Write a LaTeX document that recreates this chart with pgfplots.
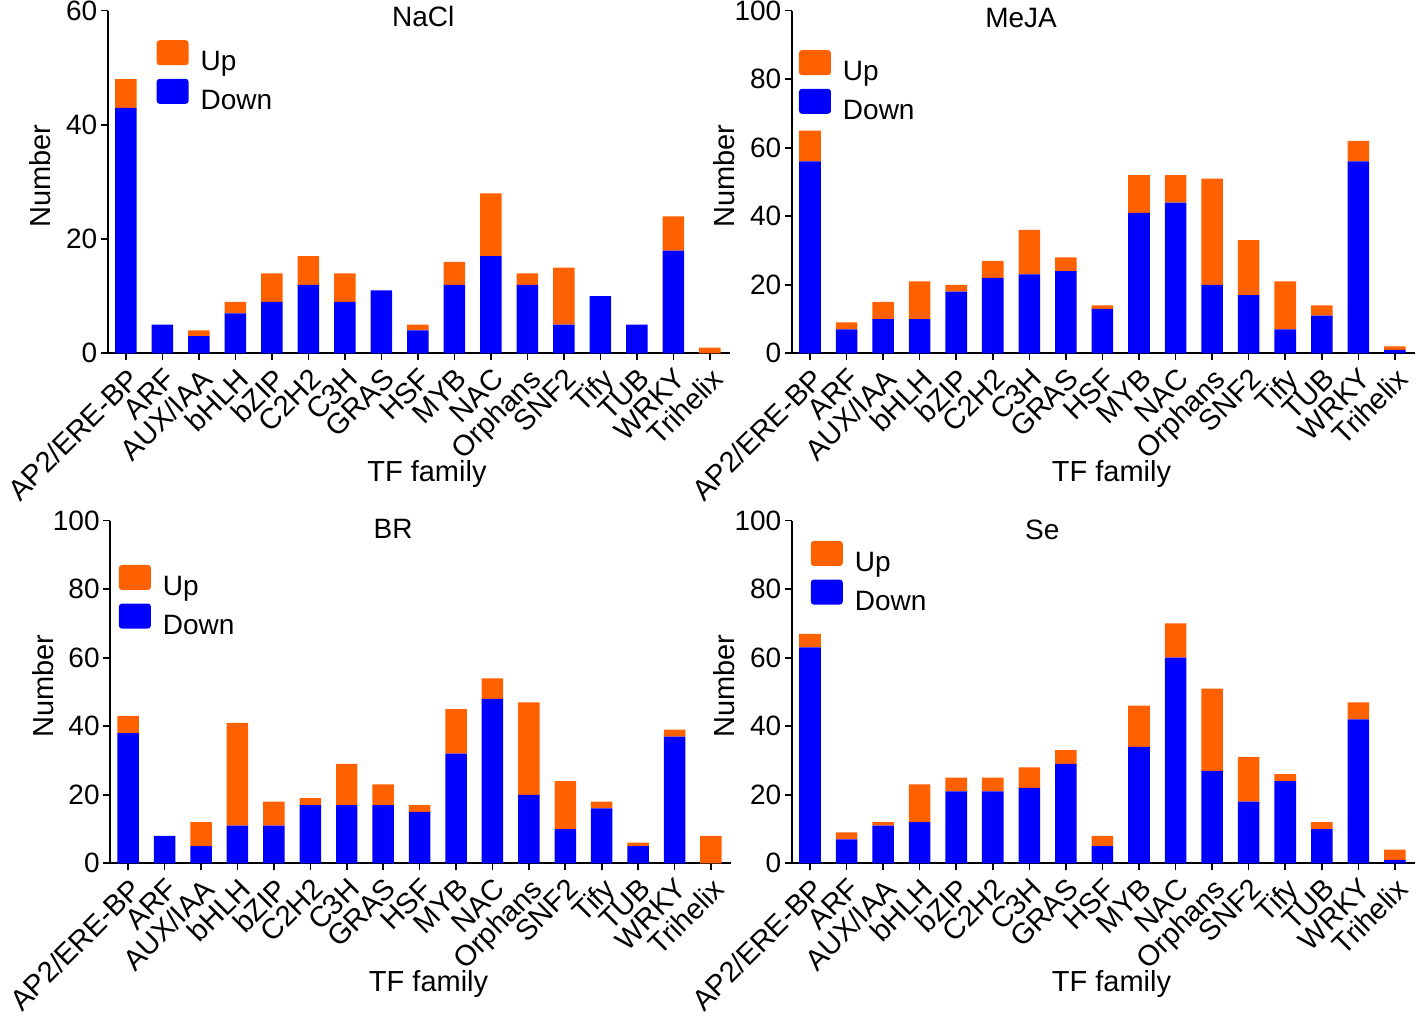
\documentclass[border=0pt]{standalone}
\usepackage{pgfplots}
\pgfplotsset{compat=1.18}
\usepackage{fontspec}
\setmainfont{Liberation Sans}
\definecolor{upc}{RGB}{255,96,0}
\definecolor{downc}{RGB}{0,0,255}
\newcommand\f{\fontsize{14pt}{16.8pt}\selectfont}
\newcommand\fl{\fontsize{14.5pt}{17pt}\selectfont}
\newcommand\fx{\fontsize{14.5pt}{17pt}\selectfont}
\pgfplotsset{
 downbar/.style={fill=downc, draw=none,
   legend image code/.code={\fill[downc, rounded corners=1.5pt] (0pt,-1.25pt) rectangle (16pt,11.25pt); \path (20pt,0pt);}},
 upbar/.style={fill=upc, draw=none,
   legend image code/.code={\fill[upc, rounded corners=1.5pt] (0pt,-1.25pt) rectangle (16pt,11.25pt); \path (20pt,0pt);}},
 panel/.style={
  scale only axis, height=171.3pt,
  ybar stacked, bar width=0.59,
  xmin=-0.5, xmax=16.55, ymin=0,
  clip=false,
  axis x line*=bottom, axis y line*=left,
  axis line style={line width=0.8pt, -},
  every tick/.style={black, line width=0.8pt},
  tick align=outside, major tick length=3.5pt,
  xtick={0,...,16},
  xticklabels={AP2/ERE-BP,ARF,AUX/IAA,bHLH,bZIP,C2H2,C3H,GRAS,HSF,MYB,NAC,Orphans,SNF2,Tify,TUB,WRKY,Trihelix},
  xticklabel style={rotate=45, anchor=north east, inner sep=2pt, font=\fx},
  yticklabel style={font=\f, inner sep=1.5pt},
  /pgf/number format/assume math mode=true,
  xlabel={TF family}, ylabel={Number},
  xlabel style={at={(axis description cs:0.513,-0.353)}, anchor=center, font=\fl},
  ylabel style={at={(axis description cs:-0.108,0.517)}, anchor=center, font=\fl},
  legend style={draw=none, fill=none, font=\f, anchor=north west, inner sep=0pt, row sep=0.5pt,
    nodes={inner sep=2pt}},
  legend cell align=left, reverse legend,
 }
}
\begin{document}
\begin{tikzpicture}
\path[use as bounding box] (0pt,0pt) rectangle (709pt,508pt);
% NaCl
\begin{axis}[panel, at={(53.85pt,331.35pt)}, anchor=south west, width=311.15pt,
  ymax=60, ytick={0,20,40,60},
  legend style={at={(axis description cs:0.078,0.915)}}]
\addplot[downbar] coordinates {(0,43) (1,5) (2,3) (3,7) (4,9) (5,12) (6,9) (7,11) (8,4) (9,12) (10,17) (11,12) (12,5) (13,10) (14,5) (15,18) (16,0)};
\addplot[upbar] coordinates {(0,5) (1,0) (2,1) (3,2) (4,5) (5,5) (6,5) (7,0) (8,1) (9,4) (10,11) (11,2) (12,10) (13,0) (14,0) (15,6) (16,1)};
\legend{Down,Up}
\node[font=\f] at (rel axis cs:0.507,0.983) {NaCl};
\end{axis}
% MeJA
\begin{axis}[panel, at={(395.85pt,331.35pt)}, anchor=south west, width=311.65pt,
  ymax=100, ytick={0,20,40,60,80,100},
  legend style={at={(axis description cs:0.011,0.886)}}]
\addplot[downbar] coordinates {(0,56) (1,7) (2,10) (3,10) (4,18) (5,22) (6,23) (7,24) (8,13) (9,41) (10,44) (11,20) (12,17) (13,7) (14,11) (15,56) (16,1)};
\addplot[upbar] coordinates {(0,9) (1,2) (2,5) (3,11) (4,2) (5,5) (6,13) (7,4) (8,1) (9,11) (10,8) (11,31) (12,16) (13,14) (14,3) (15,6) (16,1)};
\legend{Down,Up}
\node[font=\f] at (rel axis cs:0.368,0.978) {MeJA};
\end{axis}
% BR
\begin{axis}[panel, at={(55pt,76.35pt)}, anchor=south west, width=310.5pt,
  ymax=100, ytick={0,20,40,60,80,100},
  legend style={at={(axis description cs:0.0137,0.872)}}]
\addplot[downbar] coordinates {(0,38) (1,8) (2,5) (3,11) (4,11) (5,17) (6,17) (7,17) (8,15) (9,32) (10,48) (11,20) (12,10) (13,16) (14,5) (15,37) (16,0)};
\addplot[upbar] coordinates {(0,5) (1,0) (2,7) (3,30) (4,7) (5,2) (6,12) (7,6) (8,2) (9,13) (10,6) (11,27) (12,14) (13,2) (14,1) (15,2) (16,8)};
\legend{Down,Up}
\node[font=\f] at (rel axis cs:0.456,0.976) {BR};
\end{axis}
% Se
\begin{axis}[panel, at={(395.85pt,76.35pt)}, anchor=south west, width=311.65pt,
  ymax=100, ytick={0,20,40,60,80,100},
  legend style={at={(axis description cs:0.030,0.942)}}]
\addplot[downbar] coordinates {(0,63) (1,7) (2,11) (3,12) (4,21) (5,21) (6,22) (7,29) (8,5) (9,34) (10,60) (11,27) (12,18) (13,24) (14,10) (15,42) (16,1)};
\addplot[upbar] coordinates {(0,4) (1,2) (2,1) (3,11) (4,4) (5,4) (6,6) (7,4) (8,3) (9,12) (10,10) (11,24) (12,13) (13,2) (14,2) (15,5) (16,3)};
\legend{Down,Up}
\node[font=\f] at (rel axis cs:0.402,0.973) {Se};
\end{axis}
\end{tikzpicture}
\end{document}
